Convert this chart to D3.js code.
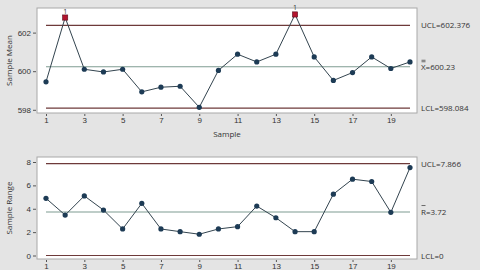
<!DOCTYPE html>
<html>
<head>
<meta charset="utf-8">
<script src="https://cdn.jsdelivr.net/npm/d3@7"></script>
<style>
  body { margin: 0; background: #e4e4e4; }
  svg { display: block; font-family: "Open Sans", "Noto Sans", sans-serif; }
  .tick text { font-size: 8px; fill: #333; }
</style>
</head>
<body>
<div id="wrapper"></div>
<script>
const samples = d3.range(1, 21);
const meanValues = [599.45, 602.78, 600.1, 599.96, 600.1, 598.93, 599.17, 599.22, 598.13, 600.04,
                    600.88, 600.48, 600.88, 602.94, 600.74, 599.52, 599.93, 600.74, 600.14, 600.48];
const rangeValues = [4.89, 3.46, 5.1, 3.89, 2.27, 4.46, 2.27, 2.04, 1.82, 2.27,
                     2.47, 4.23, 3.23, 2.04, 2.04, 5.25, 6.53, 6.33, 3.69, 7.52];
const meanLimits = { ucl: 602.376, center: 600.23, lcl: 598.084 };
const rangeLimits = { ucl: 7.866, center: 3.72, lcl: 0 };
const meanTicks = [598, 600, 602];
const rangeTicks = [0, 2, 4, 6, 8];
const xTicks = [1, 3, 5, 7, 9, 11, 13, 15, 17, 19];
const outOfControl = [2, 14]; // samples flagged with test 1

const width = 480, height = 270;

const svg = d3.select("#wrapper").append("svg")
    .attr("width", width)
    .attr("height", height);

const xScale = d3.scaleLinear().domain([1, 20]).range([46, 410]);

function drawPanel(opts) {
    const { values, limits, ticks, yDomain, yRange, frame, title, labels, flagged, centerBars } = opts;
    const yScale = d3.scaleLinear().domain(yDomain).range(yRange);

    // frame
    svg.append("rect")
        .attr("x", 37).attr("y", frame[0])
        .attr("width", 380).attr("height", frame[1] - frame[0])
        .attr("fill", "#fff").attr("stroke", "#a8a8a8");

    // y axis
    svg.append("g")
        .attr("transform", "translate(36,0)")
        .call(d3.axisLeft(yScale).tickValues(ticks).tickFormat(d3.format("d")).tickSize(3).tickPadding(2))
        .call(g => g.select(".domain").remove())
        .call(g => g.selectAll("line").attr("stroke", "#555"));

    // x axis
    svg.append("g")
        .attr("transform", `translate(0,${frame[1] + 1})`)
        .call(d3.axisBottom(xScale).tickValues(xTicks).tickSize(2).tickPadding(1))
        .call(g => g.select(".domain").remove())
        .call(g => g.selectAll("line").attr("stroke", "#555"));

    // control limit lines
    const limitLines = [
        { v: limits.ucl, color: "#6e3a3a", label: labels[0] },
        { v: limits.center, color: "#7f9c92", label: labels[1] },
        { v: limits.lcl, color: "#6e3a3a", label: labels[2] }
    ];
    limitLines.forEach(l => {
        svg.append("line")
            .attr("x1", xScale(1)).attr("x2", xScale(20))
            .attr("y1", yScale(l.v)).attr("y2", yScale(l.v))
            .attr("stroke", l.color).attr("stroke-width", 1.2);
        svg.append("text")
            .attr("x", 421).attr("y", yScale(l.v) + 3)
            .attr("font-size", 8).attr("fill", "#333")
            .text(l.label);
    });

    // bar marks over the center label (X double bar / R bar)
    const cy = yScale(limits.center);
    centerBars.forEach(dy => {
        svg.append("line")
            .attr("x1", 421.5).attr("x2", 425.5)
            .attr("y1", cy + dy).attr("y2", cy + dy)
            .attr("stroke", "#333").attr("stroke-width", 0.7);
    });

    // data line
    const line = d3.line()
        .x((d, i) => xScale(samples[i]))
        .y(d => yScale(d));
    svg.append("path")
        .attr("d", line(values))
        .attr("fill", "none")
        .attr("stroke", "#33444f")
        .attr("stroke-width", 1);

    // points
    samples.forEach((s, i) => {
        const px = xScale(s), py = yScale(values[i]);
        if (flagged.includes(s)) {
            svg.append("rect")
                .attr("x", px - 2.6).attr("y", py - 2.6)
                .attr("width", 5.2).attr("height", 5.2)
                .attr("fill", "#b3142e").attr("stroke", "#5a1020").attr("stroke-width", 0.6);
            svg.append("text")
                .attr("x", px).attr("y", py - 4)
                .attr("text-anchor", "middle")
                .attr("font-size", 7).attr("fill", "#333")
                .text("1");
        } else {
            svg.append("circle")
                .attr("cx", px).attr("cy", py).attr("r", 2.6)
                .attr("fill", "#1d3b55");
        }
    });

    // y title
    svg.append("text")
        .attr("transform", `translate(12,${(frame[0] + frame[1]) / 2}) rotate(-90)`)
        .attr("text-anchor", "middle")
        .attr("font-size", 8).attr("fill", "#333")
        .text(title);
}

drawPanel({
    values: meanValues, limits: meanLimits, ticks: meanTicks,
    yDomain: [598, 602], yRange: [109.8, 32.6], frame: [8, 113],
    title: "Sample Mean",
    labels: ["UCL=602.376", "X=600.23", "LCL=598.084"],
    flagged: outOfControl, centerBars: [-6.5, -5]
});

drawPanel({
    values: rangeValues, limits: rangeLimits, ticks: rangeTicks,
    yDomain: [0, 8], yRange: [255.5, 162], frame: [157, 259],
    title: "Sample Range",
    labels: ["UCL=7.866", "R=3.72", "LCL=0"],
    flagged: [], centerBars: [-6.5]
});

svg.append("text")
    .attr("x", 227).attr("y", 137)
    .attr("text-anchor", "middle")
    .attr("font-size", 8).attr("fill", "#333")
    .text("Sample");
</script>
</body>
</html>
